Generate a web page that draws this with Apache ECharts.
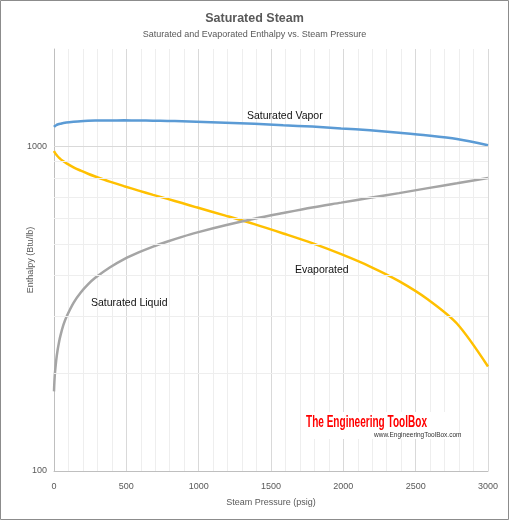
<!DOCTYPE html>
<html>
<head>
<meta charset="utf-8">
<script src="https://cdn.jsdelivr.net/npm/echarts@6/dist/echarts.min.js"></script>
<style>
html, body { margin: 0; padding: 0; background: #fff; }
#chart { width: 509px; height: 520px; }
</style>
</head>
<body>
<div id="chart"></div>
<script>
// steam pressure (psig)
const pressure = [0, 5, 15, 25, 35, 45, 65, 85, 135, 185, 235, 285, 385, 485, 585, 685, 785, 885, 985,
  1185, 1385, 1585, 1785, 1985, 2185, 2385, 2585, 2785, 3000];
// enthalpy (Btu/lb)
const satLiquid = [176, 196, 219, 236, 250, 262, 282, 298, 330, 355, 376, 394, 424, 450, 472, 492, 510, 527, 543,
  572, 599, 624, 649, 672, 696, 719, 745, 771, 800];
const evaporated = [970, 960, 945, 934, 924, 915, 901, 889, 863, 843, 825, 809, 780, 755, 732, 710, 690, 670, 650,
  613, 577, 540, 504, 466, 427, 385, 338, 285, 210];
const satVapor = [1150, 1156, 1164, 1170, 1174, 1177, 1183, 1187, 1193, 1198, 1201, 1203, 1204, 1205, 1204, 1202, 1200, 1197, 1193,
  1185, 1176, 1164, 1153, 1138, 1123, 1104, 1083, 1056, 1010];

const yMinorGrid = [200, 300, 400, 500, 600, 700, 800, 900];
const yLabels = [100, 1000];

const chart = echarts.init(document.getElementById('chart'));
const font = 'Liberation Sans';
const pairs = arr => pressure.map((p, i) => [p, arr[i]]);

const lineSeries = (name, arr, color) => ({
  name: name,
  type: 'line',
  data: pairs(arr),
  showSymbol: false,
  smooth: 0.3,
  z: 3,
  lineStyle: { color: color, width: 2.5 }
});

const option = {
  animation: false,
  textStyle: { fontFamily: font },
  title: {
    text: 'Saturated Steam',
    subtext: 'Saturated and Evaporated Enthalpy vs. Steam Pressure',
    left: 'center',
    top: 7,
    itemGap: 5,
    textStyle: { fontFamily: font, fontSize: 12.5, fontWeight: 'bold', color: '#595959' },
    subtextStyle: { fontFamily: font, fontSize: 9, color: '#595959' }
  },
  grid: { left: 54, right: 21, top: 49, bottom: 49, outerBoundsMode: 'none' },
  xAxis: {
    type: 'value',
    min: 0,
    max: 3000,
    interval: 500,
    name: 'Steam Pressure (psig)',
    nameLocation: 'middle',
    nameGap: 27,
    nameMoveOverlap: false,
    nameTextStyle: { fontFamily: font, fontSize: 9, color: '#595959' },
    axisLine: { lineStyle: { color: '#bfbfbf' } },
    axisTick: { show: false },
    axisLabel: { fontFamily: font, fontSize: 9, color: '#595959', margin: 11, formatter: v => String(v) },
    splitLine: { lineStyle: { color: '#d9d9d9' } },
    minorTick: { show: false, splitNumber: 5 },
    minorSplitLine: { show: true, lineStyle: { color: '#eeeeee' } }
  },
  yAxis: {
    type: 'log',
    logBase: 10,
    min: 100,
    max: 2000,
    name: 'Enthalpy (Btu/lb)',
    nameLocation: 'middle',
    nameGap: 19,
    nameMoveOverlap: false,
    nameTextStyle: { fontFamily: font, fontSize: 9, color: '#595959' },
    axisLine: { show: true, lineStyle: { color: '#bfbfbf' } },
    axisTick: { show: false },
    axisLabel: {
      fontFamily: font, fontSize: 9, color: '#595959', margin: 7,
      formatter: v => (yLabels.indexOf(Math.round(v)) >= 0 ? String(Math.round(v)) : '')
    },
    splitLine: { show: false }
  },
  series: [
    {
      name: 'grid',
      type: 'line',
      data: [],
      z: 1,
      silent: true,
      markLine: {
        silent: true,
        symbol: 'none',
        label: { show: false },
        data: yMinorGrid.map(v => ({ yAxis: v, lineStyle: { color: '#eeeeee', width: 1, type: 'solid' } }))
          .concat([{ yAxis: 1000, lineStyle: { color: '#d9d9d9', width: 1, type: 'solid' } }])
      }
    },
    lineSeries('Saturated Vapor', satVapor, '#5b9bd5'),
    lineSeries('Evaporated', evaporated, '#ffc000'),
    lineSeries('Saturated Liquid', satLiquid, '#a5a5a5')
  ],
  graphic: [
    { type: 'rect', shape: { x: 0.5, y: 0.5, width: 508, height: 519 }, style: { fill: 'none', stroke: '#8c8c8c', lineWidth: 1 }, z: 10 },
    { type: 'text', x: 247, y: 116, style: { text: 'Saturated Vapor', font: '10.5px ' + font, fill: '#111', verticalAlign: 'middle' }, z: 10 },
    { type: 'text', x: 295, y: 270, style: { text: 'Evaporated', font: '10.5px ' + font, fill: '#111', verticalAlign: 'middle' }, z: 10 },
    { type: 'text', x: 91, y: 303, style: { text: 'Saturated Liquid', font: '10.5px ' + font, fill: '#111', verticalAlign: 'middle' }, z: 10 },
    { type: 'rect', shape: { x: 302, y: 412, width: 156, height: 27 }, style: { fill: '#fff' }, z: 5 },
    { type: 'text', x: 306, y: 423, scaleX: 0.67, scaleY: 1.05, style: { text: 'The Engineering ToolBox', font: 'bold 15px ' + font, fill: '#ff0000', verticalAlign: 'middle' }, z: 10 },
    { type: 'text', x: 374, y: 435, style: { text: 'www.EngineeringToolBox.com', font: '6.5px ' + font, fill: '#333', verticalAlign: 'middle' }, z: 10 }
  ]
};

chart.setOption(option);
</script>
</body>
</html>
